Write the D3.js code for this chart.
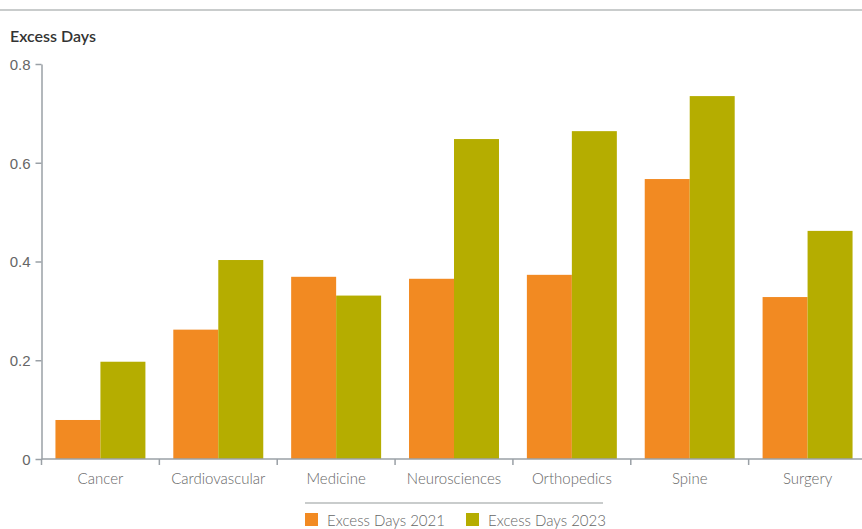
<!DOCTYPE html>
<html>
<head>
<meta charset="utf-8">
<script src="https://cdn.jsdelivr.net/npm/d3@7"></script>
<style>
  body { margin: 0; background: #fff; }
  svg { display: block; font-family: Lato, "Open Sans", sans-serif; }
  .axis path, .axis line { stroke: #9aa0a6; stroke-width: 1.5; }
  .axis text { fill: #666; font-size: 15px; font-weight: 300; }
</style>
</head>
<body>
<div id="chart"></div>
<script>
const categories = ["Cancer", "Cardiovascular", "Medicine", "Neurosciences", "Orthopedics", "Spine", "Surgery"];
const seriesNames = ["Excess Days 2021", "Excess Days 2023"];
const values2021 = [0.079, 0.262, 0.369, 0.365, 0.373, 0.567, 0.328];
const values2023 = [0.197, 0.403, 0.331, 0.648, 0.664, 0.735, 0.462];
const yTicks = [0, 0.2, 0.4, 0.6, 0.8];
const colors = ["#F28A22", "#B5AD00"];

const width = 862, height = 529;
const svg = d3.select("#chart").append("svg")
    .attr("width", width)
    .attr("height", height);

// top rule
svg.append("line")
    .attr("x1", 0).attr("x2", width)
    .attr("y1", 10).attr("y2", 10)
    .attr("stroke", "#c9cccc").attr("stroke-width", 2);

svg.append("text")
    .attr("x", 10).attr("y", 42)
    .attr("fill", "#333")
    .attr("font-size", 16)
    .attr("font-weight", 600)
    .text("Excess Days");

const x0 = d3.scaleBand()
    .domain(categories)
    .range([41.5, 866.5])
    .padding(0);

const x1 = d3.scaleBand()
    .domain(seriesNames)
    .range([0, x0.bandwidth()])
    .paddingInner(0)
    .paddingOuter(0.31);

const y = d3.scaleLinear()
    .domain([0, 0.8])
    .range([459, 64]);

const rows = categories.map((c, i) => ({
    cat: c,
    vals: [values2021[i], values2023[i]]
}));

// bars
const groups = svg.append("g").selectAll("g")
    .data(rows)
    .enter().append("g")
    .attr("transform", d => `translate(${x0(d.cat)},0)`);

groups.selectAll("rect")
    .data(d => d.vals.map((v, j) => ({ key: seriesNames[j], v: v, j: j })))
    .enter().append("rect")
    .attr("x", d => x1(d.key))
    .attr("width", x1.bandwidth())
    .attr("y", d => y(d.v))
    .attr("height", d => y(0) - y(d.v))
    .attr("fill", d => colors[d.j]);

// y axis
const yAxis = d3.axisLeft(y)
    .tickValues(yTicks)
    .tickSize(6)
    .tickPadding(5)
    .tickSizeOuter(0)
    .tickFormat(d => d === 0 ? "0" : d3.format(".1f")(d));

svg.append("g")
    .attr("class", "axis")
    .attr("transform", "translate(41.5,0)")
    .call(yAxis)
    .call(g => g.selectAll("text").attr("dy", "0.35em"));

// x axis with ticks between categories
const xAxisG = svg.append("g")
    .attr("class", "axis")
    .attr("transform", "translate(0,459)");

xAxisG.append("line")
    .attr("x1", 41.5).attr("x2", 866.5)
    .attr("y1", 0).attr("y2", 0);

xAxisG.selectAll(".sep")
    .data(categories)
    .enter().append("line")
    .attr("class", "sep")
    .attr("x1", d => x0(d)).attr("x2", d => x0(d))
    .attr("y1", 0).attr("y2", 6);

xAxisG.selectAll(".lbl")
    .data(categories)
    .enter().append("text")
    .attr("class", "lbl")
    .attr("x", d => x0(d) + x0.bandwidth() / 2)
    .attr("y", 25)
    .attr("text-anchor", "middle")
    .text(d => d);

// legend
const legend = svg.append("g");
legend.append("line")
    .attr("x1", 305).attr("x2", 603)
    .attr("y1", 503).attr("y2", 503)
    .attr("stroke", "#c9cccc").attr("stroke-width", 2);

const legendX = [305, 466];
const items = legend.selectAll(".item")
    .data(seriesNames)
    .enter().append("g")
    .attr("transform", (d, i) => `translate(${legendX[i]},513)`);

items.append("rect")
    .attr("width", 13).attr("height", 13)
    .attr("fill", (d, i) => colors[i]);

items.append("text")
    .attr("x", 22).attr("y", 12.5)
    .attr("fill", "#666")
    .attr("font-size", 15)
    .attr("font-weight", 300)
    .text(d => d);
</script>
</body>
</html>
